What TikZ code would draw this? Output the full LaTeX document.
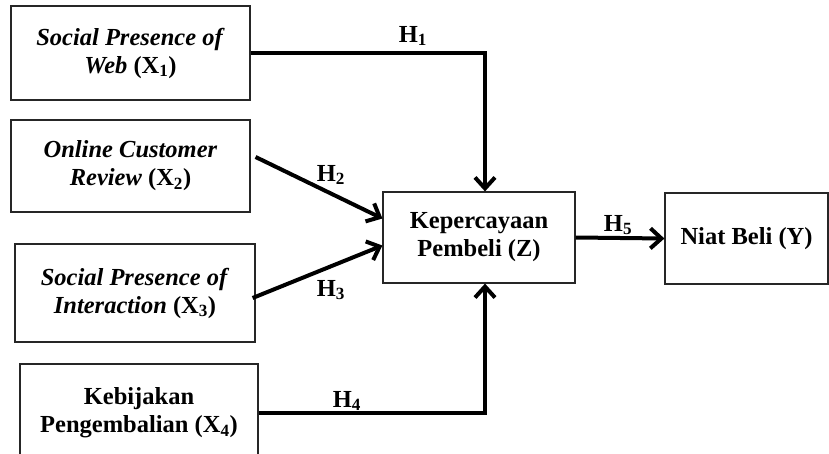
\documentclass[tikz,border=0pt]{standalone}
\usepackage{fontspec}
\setmainfont{Liberation Serif}
\usetikzlibrary{arrows.meta}
\tikzset{
  varbox/.style = {draw=black!85, line width=1.2pt, align=center, inner sep=0pt,
    font=\fontsize{24.5}{28}\selectfont\bfseries},
  hyp/.style = {draw, line width=4pt, -{Straight Barb[length=11pt,width=20pt]}},
  hlabel/.style = {inner sep=0pt, font=\fontsize{24.5}{28}\selectfont\bfseries},
}

\begin{document}
\begin{tikzpicture}[x=1pt,y=-1pt]
  \useasboundingbox (0,0) rectangle (829,454);
  \clip (0,0) rectangle (829,454);

  % variabel bebas
  \node[varbox, minimum width=239pt, minimum height=94pt] (x1) at (130.5,53)
    {\textit{Social Presence of}\\\textit{Web} (X\textsubscript{1})};
  \node[varbox, minimum width=239pt, minimum height=92pt] (x2) at (130.5,166)
    {\textit{Online Customer}\\\textit{Review} (X\textsubscript{2})};
  \node[varbox, minimum width=240pt, minimum height=98pt] (x3) at (135,293)
    {\textit{Social Presence of}\\\textit{Interaction} (X\textsubscript{3})};
  \node[varbox, minimum width=238pt, minimum height=98pt] (x4) at (139,413)
    {Kebijakan\\Pengembalian (X\textsubscript{4})};

  % mediasi dan terikat
  \node[varbox, minimum width=192pt, minimum height=91pt] (z) at (479,237.5)
    {Kepercayaan\\Pembeli (Z)};
  \node[varbox, minimum width=163pt, minimum height=91pt] (y) at (746.5,238.5)
    {Niat Beli (Y)};

  % hipotesis
  \path[hyp] (x1.east) -| ([xshift=6pt]z.north);
  \path[hyp] ([xshift=5pt,yshift=9pt]x2.east) -- ([yshift=19pt]z.west);
  \path[hyp] ([xshift=-3pt,yshift=-5pt]x3.east) -- ([yshift=-8pt]z.west);
  \path[hyp] (x4.east) -| ([xshift=6pt]z.south);
  \path[hyp] (z.east) -- (y.west);

  \node[hlabel] (h1) at (413,36) {H\textsubscript{1}};
  \node[hlabel] (h2) at (331,175) {H\textsubscript{2}};
  \node[hlabel] (h3) at (331,290) {H\textsubscript{3}};
  \node[hlabel] (h4) at (347,401) {H\textsubscript{4}};
  \node[hlabel] (h5) at (618,225) {H\textsubscript{5}};
\end{tikzpicture}
\end{document}
